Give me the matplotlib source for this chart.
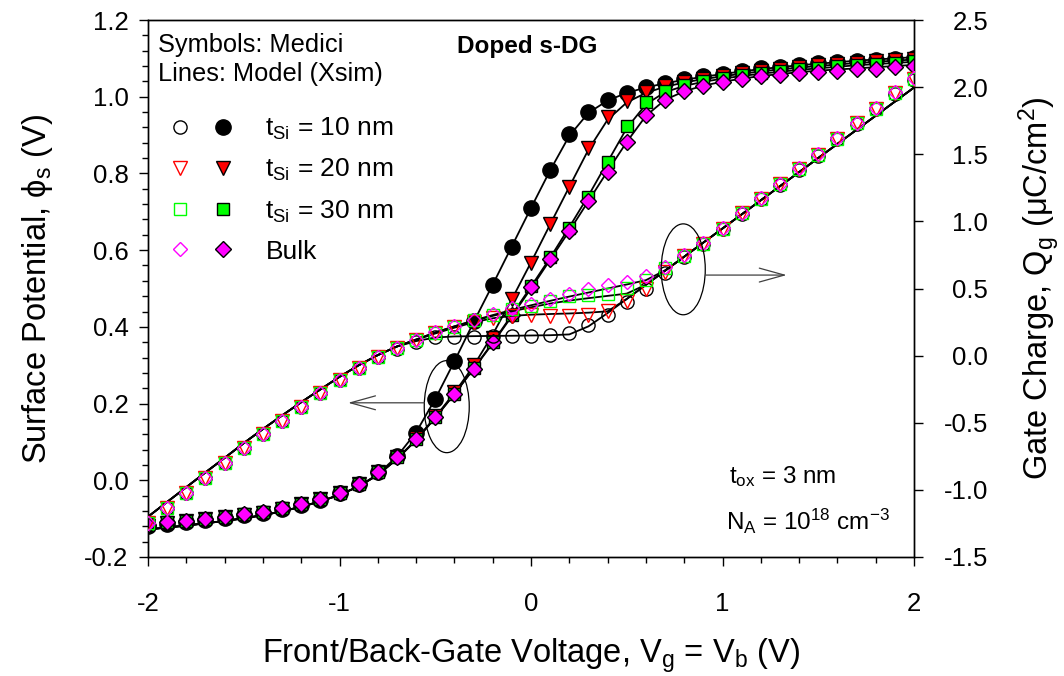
import numpy as np
import matplotlib
matplotlib.use('Agg')
import matplotlib.pyplot as plt
from matplotlib.patches import Ellipse
from matplotlib.legend_handler import HandlerTuple
from matplotlib.lines import Line2D
from matplotlib.ticker import MultipleLocator

plt.rcParams['font.family'] = ['Liberation Sans', 'DejaVu Sans']
plt.rcParams['mathtext.default'] = 'regular'

# ---------------- data ----------------
vg = [-2.0, -1.9, -1.8, -1.7, -1.6, -1.5, -1.4, -1.3, -1.2, -1.1,
      -1.0, -0.9, -0.8, -0.7, -0.6, -0.5, -0.4, -0.3, -0.2, -0.1,
      0.0, 0.1, 0.2, 0.3, 0.4, 0.5, 0.6, 0.7, 0.8, 0.9,
      1.0, 1.1, 1.2, 1.3, 1.4, 1.5, 1.6, 1.7, 1.8, 1.9, 2.0]

labels = ['t$_{Si}$ = 10 nm', 't$_{Si}$ = 20 nm', 't$_{Si}$ = 30 nm', 'Bulk']

# Surface potential, Medici (filled symbols)
phi_med_10 = [-0.120, -0.113, -0.108, -0.103, -0.098, -0.091, -0.085, -0.075, -0.064, -0.051,
              -0.034, -0.010, 0.022, 0.064, 0.124, 0.211, 0.312, 0.415, 0.509, 0.607,
              0.709, 0.809, 0.902, 0.961, 0.991, 1.010, 1.025, 1.036, 1.045, 1.053,
              1.060, 1.068, 1.074, 1.078, 1.083, 1.087, 1.090, 1.094, 1.097, 1.099, 1.102]
phi_med_20 = [-0.118, -0.111, -0.107, -0.102, -0.097, -0.090, -0.084, -0.074, -0.063, -0.050,
              -0.033, -0.010, 0.022, 0.061, 0.109, 0.167, 0.230, 0.300, 0.372, 0.472,
              0.567, 0.667, 0.765, 0.866, 0.946, 0.989, 1.013, 1.028, 1.038, 1.047,
              1.054, 1.062, 1.068, 1.073, 1.078, 1.082, 1.085, 1.089, 1.092, 1.095, 1.098]
phi_med_30 = [-0.117, -0.110, -0.106, -0.101, -0.096, -0.089, -0.083, -0.073, -0.062, -0.049,
              -0.033, -0.010, 0.022, 0.061, 0.108, 0.166, 0.226, 0.292, 0.361, 0.432,
              0.506, 0.582, 0.659, 0.739, 0.831, 0.923, 0.987, 1.014, 1.030, 1.040,
              1.048, 1.056, 1.062, 1.067, 1.072, 1.076, 1.079, 1.083, 1.086, 1.089, 1.092]
phi_med_bulk = [-0.117, -0.110, -0.106, -0.101, -0.096, -0.089, -0.083, -0.073, -0.062, -0.049,
                -0.033, -0.010, 0.022, 0.061, 0.108, 0.165, 0.225, 0.290, 0.360, 0.430,
                0.504, 0.577, 0.651, 0.727, 0.805, 0.883, 0.952, 0.992, 1.015, 1.029,
                1.038, 1.047, 1.054, 1.057, 1.063, 1.065, 1.068, 1.071, 1.072, 1.077, 1.080]

# Surface potential, model (lines)
phi_mod_10 = [-0.128, -0.123, -0.118, -0.112, -0.106, -0.099, -0.091, -0.081, -0.069, -0.055,
              -0.038, -0.016, 0.016, 0.062, 0.125, 0.212, 0.310, 0.412, 0.510, 0.610,
              0.710, 0.808, 0.898, 0.958, 0.990, 1.010, 1.024, 1.035, 1.044, 1.052,
              1.059, 1.066, 1.072, 1.077, 1.082, 1.086, 1.090, 1.094, 1.097, 1.100, 1.103]
phi_mod_20 = [-0.128, -0.123, -0.118, -0.112, -0.106, -0.099, -0.091, -0.081, -0.069, -0.055,
              -0.038, -0.016, 0.014, 0.056, 0.106, 0.165, 0.228, 0.298, 0.380, 0.472,
              0.568, 0.667, 0.765, 0.862, 0.940, 0.985, 1.010, 1.026, 1.037, 1.046,
              1.053, 1.060, 1.066, 1.071, 1.076, 1.080, 1.084, 1.088, 1.091, 1.094, 1.097]
phi_mod_30 = [-0.128, -0.123, -0.118, -0.112, -0.106, -0.099, -0.091, -0.081, -0.069, -0.055,
              -0.038, -0.016, 0.014, 0.055, 0.105, 0.163, 0.225, 0.291, 0.359, 0.431,
              0.505, 0.580, 0.660, 0.742, 0.830, 0.918, 0.980, 1.012, 1.028, 1.039,
              1.047, 1.054, 1.060, 1.065, 1.070, 1.074, 1.078, 1.082, 1.085, 1.088, 1.091]
phi_mod_bulk = [-0.128, -0.123, -0.118, -0.112, -0.106, -0.099, -0.091, -0.081, -0.069, -0.055,
                -0.038, -0.016, 0.014, 0.055, 0.105, 0.163, 0.225, 0.290, 0.357, 0.428,
                0.500, 0.575, 0.650, 0.728, 0.806, 0.882, 0.950, 0.992, 1.014, 1.029,
                1.039, 1.047, 1.054, 1.059, 1.064, 1.068, 1.071, 1.074, 1.077, 1.080, 1.083]

# Gate charge, Medici (open symbols)
q_med_10 = [-1.250, -1.137, -1.026, -0.914, -0.802, -0.690, -0.584, -0.485, -0.380, -0.281,
            -0.182, -0.095, -0.013, 0.050, 0.104, 0.136, 0.140, 0.141, 0.145, 0.146,
            0.148, 0.155, 0.170, 0.228, 0.302, 0.397, 0.494, 0.613, 0.735, 0.830,
            0.940, 1.055, 1.165, 1.270, 1.385, 1.490, 1.610, 1.725, 1.835, 1.950, 2.055]
q_med_20 = [-1.250, -1.137, -1.026, -0.914, -0.802, -0.690, -0.584, -0.485, -0.380, -0.281,
            -0.182, -0.095, -0.013, 0.055, 0.113, 0.168, 0.212, 0.252, 0.283, 0.298,
            0.300, 0.298, 0.298, 0.305, 0.330, 0.410, 0.500, 0.625, 0.740, 0.835,
            0.945, 1.060, 1.170, 1.275, 1.390, 1.495, 1.615, 1.730, 1.840, 1.955, 2.060]
q_med_30 = [-1.250, -1.137, -1.026, -0.914, -0.802, -0.690, -0.584, -0.485, -0.380, -0.281,
            -0.182, -0.095, -0.013, 0.057, 0.115, 0.172, 0.216, 0.262, 0.302, 0.345,
            0.372, 0.410, 0.445, 0.450, 0.460, 0.505, 0.565, 0.650, 0.745, 0.835,
            0.945, 1.060, 1.170, 1.275, 1.390, 1.495, 1.615, 1.730, 1.840, 1.955, 2.060]
q_med_bulk = [-1.250, -1.137, -1.026, -0.914, -0.802, -0.690, -0.584, -0.485, -0.380, -0.281,
              -0.182, -0.095, -0.013, 0.057, 0.115, 0.175, 0.218, 0.265, 0.308, 0.352,
              0.383, 0.419, 0.459, 0.495, 0.525, 0.550, 0.590, 0.660, 0.750, 0.840,
              0.950, 1.065, 1.175, 1.280, 1.395, 1.500, 1.620, 1.735, 1.845, 1.960, 2.065]

# Gate charge, model (lines)
q_mod_10 = [-1.200, -1.090, -0.980, -0.870, -0.762, -0.652, -0.547, -0.446, -0.347, -0.252,
            -0.158, -0.072, 0.004, 0.068, 0.108, 0.135, 0.143, 0.145, 0.147, 0.148,
            0.150, 0.152, 0.158, 0.218, 0.317, 0.422, 0.527, 0.632, 0.737, 0.842,
            0.947, 1.052, 1.157, 1.262, 1.367, 1.472, 1.577, 1.682, 1.787, 1.892, 1.997]
q_mod_20 = [-1.200, -1.090, -0.980, -0.870, -0.762, -0.652, -0.547, -0.446, -0.347, -0.252,
            -0.158, -0.072, 0.004, 0.068, 0.117, 0.165, 0.208, 0.248, 0.278, 0.296,
            0.305, 0.310, 0.314, 0.320, 0.330, 0.422, 0.527, 0.632, 0.737, 0.842,
            0.947, 1.052, 1.157, 1.262, 1.367, 1.472, 1.577, 1.682, 1.787, 1.892, 1.997]
q_mod_30 = [-1.200, -1.090, -0.980, -0.870, -0.762, -0.652, -0.547, -0.446, -0.347, -0.252,
            -0.158, -0.072, 0.004, 0.068, 0.120, 0.172, 0.218, 0.258, 0.296, 0.330,
            0.360, 0.388, 0.410, 0.428, 0.445, 0.462, 0.528, 0.633, 0.737, 0.842,
            0.947, 1.052, 1.157, 1.262, 1.367, 1.472, 1.577, 1.682, 1.787, 1.892, 1.997]
q_mod_bulk = [-1.200, -1.090, -0.980, -0.870, -0.762, -0.652, -0.547, -0.446, -0.347, -0.252,
              -0.158, -0.072, 0.004, 0.068, 0.120, 0.172, 0.218, 0.262, 0.302, 0.340,
              0.375, 0.408, 0.440, 0.470, 0.500, 0.530, 0.562, 0.635, 0.737, 0.842,
              0.947, 1.052, 1.157, 1.262, 1.367, 1.472, 1.577, 1.682, 1.787, 1.892, 1.997]

# ---------------- styles ----------------
GREEN = '#00FF00'
MAGENTA = '#FF00FF'
RED = '#FF0000'
styles = [
    dict(marker='o', color='black', ms_f=11.0, ms_o=9.5),
    dict(marker='v', color=RED, ms_f=10.5, ms_o=10.0),
    dict(marker='s', color=GREEN, ms_f=9.0, ms_o=8.5),
    dict(marker='D', color=MAGENTA, ms_f=8.0, ms_o=7.6),
]
phi_med = [phi_med_10, phi_med_20, phi_med_30, phi_med_bulk]
phi_mod = [phi_mod_10, phi_mod_20, phi_mod_30, phi_mod_bulk]
q_med = [q_med_10, q_med_20, q_med_30, q_med_bulk]
q_mod = [q_mod_10, q_mod_20, q_mod_30, q_mod_bulk]

W, H = 1064, 676
fig = plt.figure(figsize=(W / 100, H / 100), dpi=100)
L, R, T, B = 148, 914, 20, 557
ax = fig.add_axes([L / W, 1 - B / H, (R - L) / W, (B - T) / H])
ax2 = ax.twinx()

LW = 1.3
for y in phi_mod:
    ax.plot(vg, y, color='black', lw=LW, zorder=2)
for y, st in zip(phi_med, styles):
    ax.plot(vg, y, ls='none', marker=st['marker'], ms=st['ms_f'],
            mfc=st['color'], mec='black', mew=1.0, zorder=3)

for y in q_mod:
    ax2.plot(vg, y, color='black', lw=LW, zorder=2)
for y, st in zip(q_med, styles):
    ax2.plot(vg, y, ls='none', marker=st['marker'], ms=st['ms_o'],
             mfc='none', mec=st['color'], mew=1.0, zorder=3)

# ---------------- axes ----------------
ax.set_xlim(-2, 2)
ax.set_ylim(-0.2, 1.2)
ax2.set_ylim(-1.5, 2.5)
ax.xaxis.set_major_locator(MultipleLocator(1))
ax.xaxis.set_minor_locator(MultipleLocator(0.2))
ax.yaxis.set_major_locator(MultipleLocator(0.2))
ax.yaxis.set_minor_locator(MultipleLocator(0.04))
ax2.yaxis.set_major_locator(MultipleLocator(0.5))
ax.xaxis.set_major_formatter(plt.FuncFormatter(lambda v, p: '%d' % round(v)))
ax.yaxis.set_major_formatter(plt.FuncFormatter(lambda v, p: '%.1f' % v))
ax2.yaxis.set_major_formatter(plt.FuncFormatter(lambda v, p: '%.1f' % v))

TICKFS = 18.5
ax.tick_params(axis='x', which='major', direction='out', length=6.5, width=1.0,
               labelsize=TICKFS, pad=18.5, top=False)
ax.tick_params(axis='x', which='minor', direction='out', length=4, width=1.0, top=False)
ax.tick_params(axis='y', which='major', direction='out', length=6.5, width=1.0,
               labelsize=TICKFS, pad=7.5, right=False)
ax.tick_params(axis='y', which='minor', direction='out', length=4, width=1.0, right=False)
ax2.tick_params(axis='y', which='major', direction='out', length=6.5, width=1.0,
                labelsize=TICKFS, pad=47)
for t in ax2.get_yticklabels():
    t.set_horizontalalignment('right')
for a in (ax, ax2):
    for s in a.spines.values():
        s.set_linewidth(1.0)

LABFS = 23.5
ax.set_xlabel('Front/Back-Gate Voltage, V$_g$ = V$_b$ (V)', fontsize=LABFS, labelpad=15)
ax.set_ylabel('Surface Potential, ϕ$_s$ (V)', fontsize=LABFS, labelpad=21)
ax2.set_ylabel('Gate Charge, Q$_g$ (μC/cm$^2$)', fontsize=LABFS, labelpad=21)

# ---------------- annotations ----------------
TXTFS = 18.3
ax2.text(0.013, 1 - (51.7 - T) / (B - T), 'Symbols: Medici', transform=ax.transAxes,
         fontsize=TXTFS, ha='left', va='baseline')
ax2.text(0.013, 1 - (81 - T) / (B - T), 'Lines: Model (Xsim)', transform=ax.transAxes,
         fontsize=TXTFS, ha='left', va='baseline')
ax2.text((527 - L) / (R - L), 1 - (53 - T) / (B - T), 'Doped s-DG', transform=ax.transAxes,
         fontsize=17.5, fontweight='bold', ha='center', va='baseline')
ax2.text((729 - L) / (R - L), 1 - (483 - T) / (B - T), 't$_{ox}$ = 3 nm',
         transform=ax.transAxes, fontsize=17.5, ha='left', va='baseline')
ax2.text((726 - L) / (R - L), 1 - (530 - T) / (B - T), 'N$_A$ = 10$^{18}$ cm$^{-3}$',
         transform=ax.transAxes, fontsize=17.5, ha='left', va='baseline')

# ellipses with arrows (in surface-potential coordinates)
ax2.add_patch(Ellipse((-0.44, 0.192), 0.235, 0.24, transform=ax.transData,
                      fill=False, ec='black', lw=0.9, zorder=5))
ax2.add_patch(Ellipse((0.795, 0.55), 0.23, 0.237, transform=ax.transData,
                      fill=False, ec='black', lw=0.9, zorder=5))
ax2.annotate('', xy=(-0.955, 0.202), xytext=(-0.558, 0.202), xycoords=ax.transData,
             textcoords=ax.transData,
             arrowprops=dict(arrowstyle='->,head_length=1.8,head_width=0.5', mutation_scale=10,
                             lw=0.9, color='#404040', shrinkA=0, shrinkB=0), zorder=5)
ax2.annotate('', xy=(1.335, 0.535), xytext=(0.912, 0.535), xycoords=ax.transData,
             textcoords=ax.transData,
             arrowprops=dict(arrowstyle='->,head_length=1.8,head_width=0.5', mutation_scale=10,
                             lw=0.9, color='#404040', shrinkA=0, shrinkB=0), zorder=5)

# ---------------- legend ----------------
LEGFS = 19
handles = []
for st in styles:
    ho = Line2D([], [], ls='none', marker=st['marker'], ms=st['ms_o'], mfc='none',
                mec=st['color'], mew=1.0)
    hf = Line2D([], [], ls='none', marker=st['marker'], ms=st['ms_f'], mfc=st['color'],
                mec='black', mew=1.0)
    handles.append((ho, hf))
leg = ax2.legend(handles, labels, handler_map={tuple: HandlerTuple(ndivide=None, pad=0)},
                 loc='upper left', bbox_to_anchor=((158 - L) / (R - L), 1 - (116 - T) / (B - T)),
                 frameon=False, fontsize=LEGFS, handlelength=3.26, handletextpad=0.81,
                 labelspacing=0.57, borderpad=0, borderaxespad=0)

fig.savefig('out.png', dpi=100)
